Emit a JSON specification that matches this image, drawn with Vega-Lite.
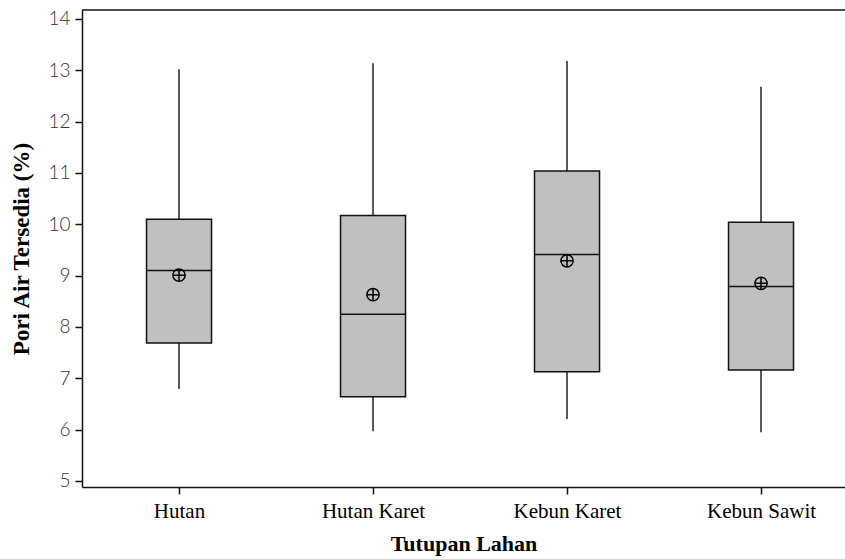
{
  "$schema": "https://vega.github.io/schema/vega-lite/v6.json",
  "width": 763,
  "height": 477,
  "autosize": {"type": "none"},
  "padding": {"left": 82, "top": 10, "right": 0, "bottom": 72},
  "background": "white",
  "config": {"view": {"stroke": null}},
  "data": {"values": [
    {"lahan": "Hutan", "min": 6.79, "q1": 7.69, "median": 9.10, "q3": 10.10, "max": 13.02, "mean": 9.01},
    {"lahan": "Hutan Karet", "min": 5.97, "q1": 6.64, "median": 8.25, "q3": 10.17, "max": 13.14, "mean": 8.63},
    {"lahan": "Kebun Karet", "min": 6.21, "q1": 7.13, "median": 9.41, "q3": 11.04, "max": 13.18, "mean": 9.29},
    {"lahan": "Kebun Sawit", "min": 5.95, "q1": 7.16, "median": 8.79, "q3": 10.04, "max": 12.68, "mean": 8.85}
  ]},
  "encoding": {
    "x": {
      "field": "lahan", "type": "nominal",
      "scale": {"type": "point", "padding": 0.4665, "align": 0.536},
      "axis": {
        "labelAngle": 0, "labelFont": "Liberation Serif", "labelFontSize": 21, "labelColor": "#000",
        "tickSize": 7, "tickWidth": 1.5, "tickColor": "#111", "domainColor": "#111", "domainWidth": 1.5,
        "labelPadding": 6, "title": "Tutupan Lahan", "titleFont": "Liberation Serif", "titleFontSize": 22,
        "titleFontWeight": "bold", "titleColor": "#000", "titlePadding": 12
      }
    }
  },
  "layer": [
    {
      "mark": {"type": "rule", "color": "#000", "strokeWidth": 1.3},
      "encoding": {
        "y": {"field": "min", "type": "quantitative",
          "scale": {"domain": [4.883, 14.175], "nice": false, "zero": false},
          "axis": {
            "values": [5, 6, 7, 8, 9, 10, 11, 12, 13, 14], "grid": false,
            "labelFont": "Lato", "labelFontWeight": 300, "labelFontSize": 19, "labelColor": "#333",
            "tickSize": 7, "tickWidth": 1.5, "tickColor": "#111", "domainColor": "#111", "domainWidth": 1.5,
            "labelPadding": 5, "title": "Pori Air Tersedia (%)", "titleFont": "Liberation Serif",
            "titleFontSize": 23, "titleFontWeight": "bold", "titleColor": "#000", "titlePadding": 14
          }
        },
        "y2": {"field": "max"}
      }
    },
    {
      "mark": {"type": "bar", "size": 65, "fill": "#c0c0c0", "stroke": "#111", "strokeWidth": 1.5},
      "encoding": {
        "y": {"field": "q1", "type": "quantitative"},
        "y2": {"field": "q3"}
      }
    },
    {
      "mark": {"type": "tick", "size": 65, "thickness": 1.5, "color": "#111", "opacity": 1},
      "encoding": {"y": {"field": "median", "type": "quantitative"}}
    },
    {
      "mark": {"type": "point", "shape": "circle", "size": 150, "filled": false, "stroke": "#000", "strokeWidth": 1.5, "opacity": 1},
      "encoding": {"y": {"field": "mean", "type": "quantitative"}}
    },
    {
      "mark": {"type": "point", "shape": "M-1,0H1M0,-1V1", "size": 150, "filled": false, "stroke": "#000", "strokeWidth": 1.5, "opacity": 1},
      "encoding": {"y": {"field": "mean", "type": "quantitative"}}
    },
    {
      "data": {"values": [{}]},
      "mark": {"type": "rule", "color": "#111", "strokeWidth": 1.5},
      "encoding": {"x": null, "y": {"datum": 14.175, "type": "quantitative"}}
    }
  ]
}
